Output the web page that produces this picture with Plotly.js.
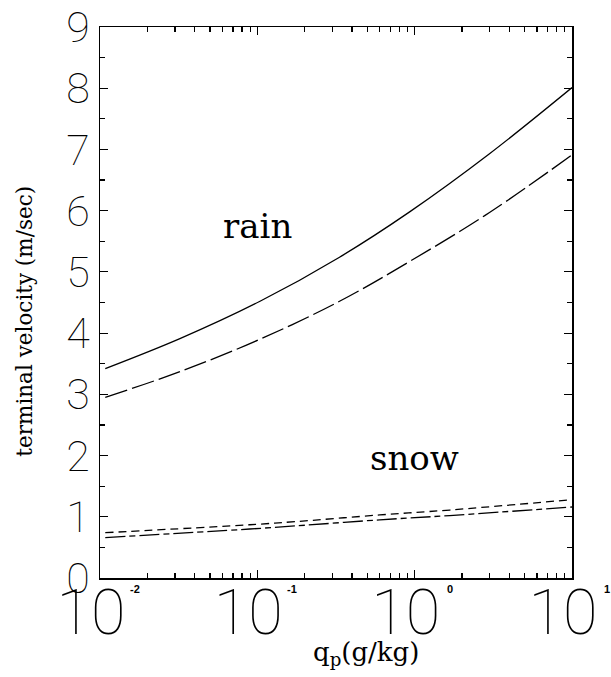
<!DOCTYPE html>
<html>
<head>
<meta charset="utf-8">
<script src="https://cdn.plot.ly/plotly-3.0.1.min.js"></script>
<style>
  html, body { margin: 0; padding: 0; background: #fff; }
  #chart { width: 611px; height: 677px; }
</style>
</head>
<body>
<div id="chart"></div>
<script>
// Mixing ratio q_p (g/kg) sampled along each curve
const rainQ = [0.0108, 0.0322, 0.104, 0.333, 0.929, 2.99, 10];
const rainSolid = [3.42, 3.91, 4.52, 5.24, 5.98, 6.93, 8.01];
const rainDashed = [2.95, 3.37, 3.90, 4.52, 5.17, 5.97, 6.91];

const snowQ = [0.0108, 0.0894, 0.173, 0.60, 1.67, 10];
const snowShortDash = [0.74, 0.87, 0.92, 1.03, 1.11, 1.28];
const snowDashDot = [0.66, 0.80, 0.85, 0.95, 1.02, 1.16];

const xTickVals = [0.01, 0.1, 1, 10];
const xTickText = ['10', '10', '10', '10'];
const xExponents = ['-2', '-1', '0', '1'];

const yTickVals = [0, 1, 2, 3, 4, 5, 6, 7, 8, 9];

// minor ticks at 2..9 within each decade
const xMinor = [];
[0.01, 0.1, 1].forEach(d => { for (let k = 2; k <= 9; k++) xMinor.push(d * k); });

const tickFont = { family: 'Roboto, "Liberation Sans", sans-serif', weight: 100, color: '#000' };
const serif = '"DejaVu Serif", "Liberation Serif", serif';

const lineW = 1.3;
const traces = [
  { x: rainQ, y: rainSolid, mode: 'lines', line: { color: '#000', width: lineW, shape: 'spline' } },
  { x: rainQ, y: rainDashed, mode: 'lines', line: { color: '#000', width: lineW, shape: 'spline', dash: '23px,5px' } },
  { x: snowQ, y: snowShortDash, mode: 'lines', line: { color: '#000', width: lineW, shape: 'spline', dash: '8px,5px' } },
  { x: snowQ, y: snowDashDot, mode: 'lines', line: { color: '#000', width: lineW, shape: 'spline', dash: '20px,4px,6px,4px' } }
];

const annotations = [
  { text: 'rain', x: Math.log10(0.1), y: 5.75, xref: 'x', yref: 'y', showarrow: false,
    font: { family: serif, size: 34, color: '#000' } },
  { text: 'snow', x: Math.log10(1.0), y: 1.96, xref: 'x', yref: 'y', showarrow: false,
    font: { family: serif, size: 34, color: '#000' } },
  { text: 'terminal velocity (m/sec)', x: -0.159, y: 0.467, xref: 'paper', yref: 'paper',
    textangle: -90, showarrow: false, xanchor: 'center', yanchor: 'middle',
    font: { family: serif, size: 21.5, color: '#000' } },
  { text: 'q<sub>p</sub>(g/kg)', x: (366 - 100) / 472, y: 0, yshift: -75, xref: 'paper', yref: 'paper',
    showarrow: false, xanchor: 'center', yanchor: 'middle',
    font: { family: serif, size: 26, color: '#000' } }
];
xTickVals.forEach((v, i) => {
  annotations.push({
    text: xExponents[i], x: Math.log10(v), y: 0, xref: 'x', yref: 'paper',
    xshift: 35, yshift: -11, showarrow: false, xanchor: 'center', yanchor: 'middle',
    font: { family: '"Liberation Sans", Arial, sans-serif', size: 11, weight: 700, color: '#000' }
  });
});

const layout = {
  width: 611, height: 677,
  margin: { l: 100, r: 39, t: 27, b: 99 },
  paper_bgcolor: '#fff', plot_bgcolor: '#fff',
  showlegend: false,
  xaxis: {
    type: 'log', range: [-2, 1],
    tickmode: 'array', tickvals: xTickVals, ticktext: xTickText,
    ticks: 'inside', ticklen: 8, tickwidth: 1.2, tickcolor: '#000',
    minor: { ticks: 'inside', ticklen: 5, tickwidth: 1.2, tickcolor: '#000', tickvals: xMinor },
    showline: true, linewidth: 1.5, linecolor: '#000', mirror: 'allticks',
    showgrid: false, zeroline: false,
    tickfont: Object.assign({ size: 63 }, tickFont),
    ticklabelstandoff: -21, ticklabelshift: -9, ticklabeloverflow: 'allow'
  },
  yaxis: {
    range: [0, 9],
    tickmode: 'array', tickvals: yTickVals,
    ticks: 'inside', ticklen: 8, tickwidth: 1.2, tickcolor: '#000',
    minor: { ticks: 'inside', ticklen: 5, tickwidth: 1.2, tickcolor: '#000', dtick: 0.5 },
    showline: true, linewidth: 1.5, linecolor: '#000', mirror: 'allticks',
    showgrid: false, zeroline: false,
    tickfont: Object.assign({ size: 43 }, tickFont),
    ticklabelstandoff: 0, ticklabeloverflow: 'allow'
  },
  annotations: annotations
};

Plotly.newPlot('chart', traces, layout, { displayModeBar: false, staticPlot: true });
</script>
</body>
</html>
